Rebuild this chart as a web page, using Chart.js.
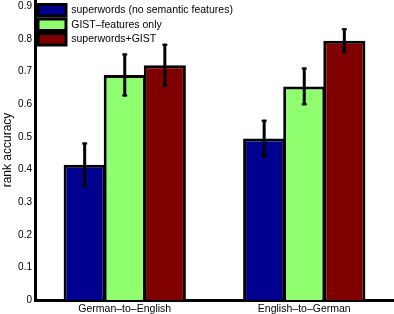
<!DOCTYPE html>
<html>
<head>
<meta charset="utf-8">
<script src="https://cdn.jsdelivr.net/npm/chart.js@4"></script>
<style>
html,body{margin:0;padding:0;background:#fff;}
#wrap{width:394px;height:314px;position:relative;}
</style>
</head>
<body>
<div id="wrap"><canvas id="c" width="394" height="314"></canvas></div>
<script>
const categories = ['German\u2013to\u2013English', 'English\u2013to\u2013German'];
const seriesNames = ['superwords (no semantic features)', 'GIST\u2013features only', 'superwords+GIST'];
const superwords = [0.415, 0.495];
const gist = [0.69, 0.655];
const combined = [0.72, 0.795];
const superwordsErr = [0.068, 0.058];
const gistErr = [0.066, 0.058];
const combinedErr = [0.066, 0.038];
const yTicks = [0, 0.1, 0.2, 0.3, 0.4, 0.5, 0.6, 0.7, 0.8, 0.9];
const yTitle = 'rank accuracy';

const colors = ['#00008F', '#8FFF70', '#800000'];
const errs = [superwordsErr, gistErr, combinedErr];

const errorBars = {
  id: 'errorBars',
  afterLayout(chart) {
    if (chart.legend) chart.legend.top += 1.5;
  },
  afterDatasetsDraw(chart) {
    const ctx = chart.ctx;
    const y = chart.scales.y;
    ctx.save();
    ctx.strokeStyle = '#000';
    chart.data.datasets.forEach((ds, di) => {
      const meta = chart.getDatasetMeta(di);
      meta.data.forEach((el, i) => {
        const v = ds.data[i], e = errs[di][i];
        const yt = y.getPixelForValue(v + e);
        const yb = y.getPixelForValue(v - e);
        ctx.lineWidth = 3;
        ctx.beginPath();
        ctx.moveTo(el.x, yt);
        ctx.lineTo(el.x, yb);
        ctx.stroke();
        ctx.lineWidth = 2;
        ctx.beginPath();
        ctx.moveTo(el.x - 2.5, yt + 1);
        ctx.lineTo(el.x + 2.5, yt + 1);
        ctx.moveTo(el.x - 2.5, yb - 1);
        ctx.lineTo(el.x + 2.5, yb - 1);
        ctx.stroke();
      });
    });
    ctx.restore();
  }
};

Chart.defaults.font.family = '"Liberation Sans", Arial, Helvetica, sans-serif';
Chart.defaults.font.size = 10;
Chart.defaults.color = '#000';

new Chart(document.getElementById('c'), {
  type: 'bar',
  data: {
    labels: categories,
    datasets: [
      { label: seriesNames[0], data: superwords, backgroundColor: colors[0] },
      { label: seriesNames[1], data: gist, backgroundColor: colors[1] },
      { label: seriesNames[2], data: combined, backgroundColor: colors[2] }
    ].map(d => Object.assign(d, {
      borderColor: '#000', borderWidth: 3, borderSkipped: 'start',
      categoryPercentage: 0.67, barPercentage: 1.05
    }))
  },
  options: {
    responsive: false,
    animation: false,
    devicePixelRatio: 1,
    layout: { padding: { top: 0, right: 0, left: 0, bottom: 0 } },
    plugins: {
      tooltip: { enabled: false },
      legend: {
        position: 'chartArea',
        align: 'start',
        labels: {
          boxWidth: 28,
          boxHeight: 11.5,
          padding: 3,
          color: '#000',
          font: { size: 10.5 }
        }
      }
    },
    scales: {
      x: {
        grid: { display: false, drawTicks: false },
        border: { display: true, color: '#000', width: 3 },
        ticks: { padding: 3, font: { size: 10.5 }, color: '#000', maxRotation: 0 },
        afterFit(s) { s.height = 14; s.paddingLeft = 0; s.paddingRight = 0; }
      },
      y: {
        min: 0,
        max: 0.92,
        grid: { display: false, drawTicks: false },
        border: { display: true, color: '#000', width: 3 },
        title: { display: true, text: yTitle, padding: { top: 0, bottom: 0 }, font: { size: 12 }, color: '#000' },
        afterBuildTicks(s) { s.ticks = yTicks.map(v => ({ value: v })); },
        ticks: {
          padding: 3,
          color: '#000',
          font: { size: 10 },
          callback: v => (v === 0 ? '0' : Number(v).toFixed(1))
        },
        afterFit(s) { s.width = 35; s.paddingTop = 0; s.paddingBottom = 0; }
      }
    }
  },
  plugins: [errorBars]
});
</script>
</body>
</html>
